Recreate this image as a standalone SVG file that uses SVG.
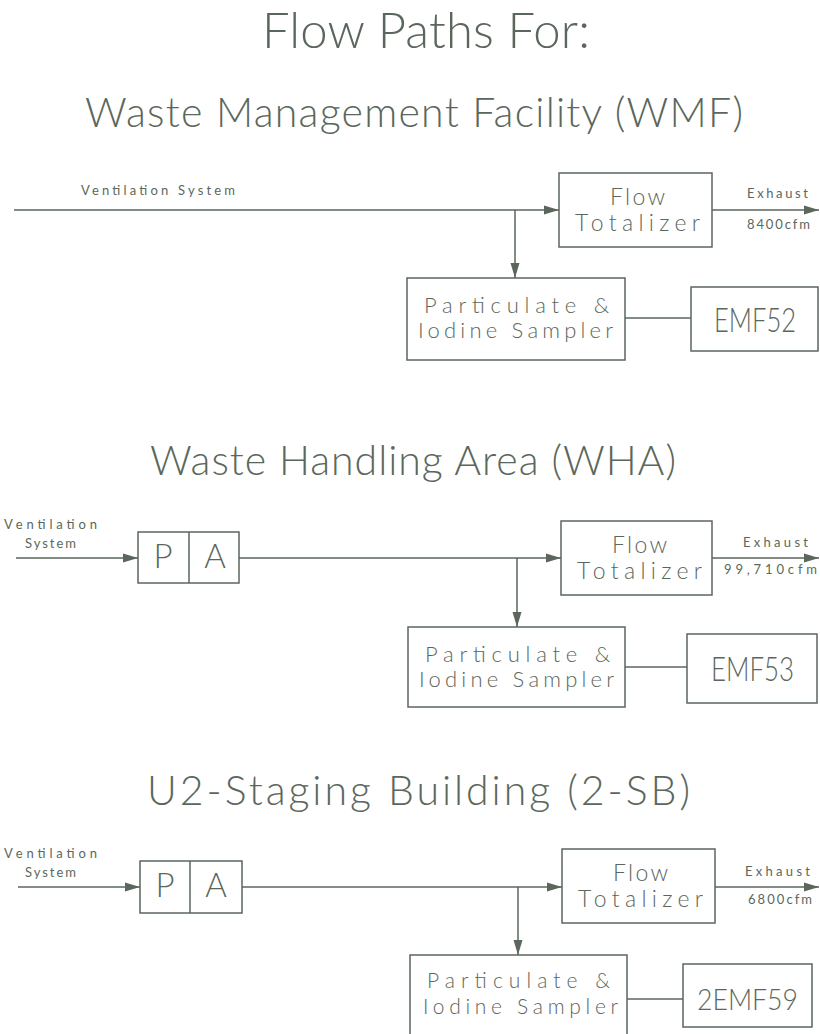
<svg xmlns="http://www.w3.org/2000/svg" width="820" height="1034" viewBox="0 0 820 1034">
<defs>
<style>
.t{font-family:"Lato","Roboto","Liberation Sans",sans-serif;fill:#5b675c;font-weight:300}
.s{font-weight:400}
.box{fill:none;stroke:#5b675c;stroke-width:1.5}
.ln{fill:none;stroke:#5b675c;stroke-width:1.5}
.arr{marker-end:url(#ah)}
</style>
<marker id="ah" markerUnits="userSpaceOnUse" markerWidth="16" markerHeight="10" refX="15" refY="5" orient="auto">
<path d="M0,0.5 L15,5 L0,9.5 Z" fill="#5b675c"/>
</marker>
</defs>
<rect width="820" height="1034" fill="#ffffff"/>

<g id="titles">
<text class="t" x="262" y="48" font-size="49" textLength="328" lengthAdjust="spacing">Flow Paths For:</text>
<text class="t" x="85" y="127" font-size="41" textLength="658" lengthAdjust="spacing">Waste Management Facility (WMF)</text>
<text class="t" x="150" y="475" font-size="41" textLength="526" lengthAdjust="spacing">Waste Handling Area (WHA)</text>
<text class="t" x="147" y="805" font-size="41" textLength="543" lengthAdjust="spacing">U2-Staging Building (2-SB)</text>
</g>

<g id="connectors">
<line class="ln arr" x1="14" y1="210" x2="559" y2="210"/>
<line class="ln arr" x1="515" y1="210" x2="515" y2="278"/>
<line class="ln arr" x1="712" y1="210" x2="819" y2="210"/>
<line class="ln" x1="625" y1="318" x2="691" y2="318"/>
<line class="ln arr" x1="16" y1="558" x2="138" y2="558"/>
<line class="ln arr" x1="239" y1="558" x2="561" y2="558"/>
<line class="ln arr" x1="517" y1="558" x2="517" y2="627"/>
<line class="ln arr" x1="712" y1="558" x2="819" y2="558"/>
<line class="ln" x1="625" y1="667" x2="687" y2="667"/>
<line class="ln arr" x1="18" y1="887" x2="140" y2="887"/>
<line class="ln arr" x1="242" y1="887" x2="562" y2="887"/>
<line class="ln arr" x1="518" y1="887" x2="518" y2="955"/>
<line class="ln arr" x1="715" y1="887" x2="819" y2="887"/>
<line class="ln" x1="627" y1="999" x2="683" y2="999"/>
</g>

<g id="labels">
<text class="t s" x="81" y="195" font-size="13" textLength="154" lengthAdjust="spacing">Ventilation System</text>
<text class="t s" x="747" y="198" font-size="13" textLength="61" lengthAdjust="spacing">Exhaust</text>
<text class="t s" x="747" y="229" font-size="13" textLength="63" lengthAdjust="spacing">8400cfm</text>

<text class="t s" x="4" y="529" font-size="13" textLength="93" lengthAdjust="spacing">Ventilation</text>
<text class="t s" x="25" y="548" font-size="13" textLength="51" lengthAdjust="spacing">System</text>
<text class="t s" x="743" y="547" font-size="13" textLength="65" lengthAdjust="spacing">Exhaust</text>
<text class="t s" x="724" y="574" font-size="13" textLength="93" lengthAdjust="spacing">99,710cfm</text>

<text class="t s" x="4" y="858" font-size="13" textLength="93" lengthAdjust="spacing">Ventilation</text>
<text class="t s" x="25" y="877" font-size="13" textLength="51" lengthAdjust="spacing">System</text>
<text class="t s" x="745" y="876" font-size="13" textLength="65" lengthAdjust="spacing">Exhaust</text>
<text class="t s" x="748" y="904" font-size="13" textLength="64" lengthAdjust="spacing">6800cfm</text>
</g>

<g id="flow1">
<rect class="box" x="559" y="173" width="153" height="74"/>
<text class="t" x="610" y="205" font-size="23" textLength="55" lengthAdjust="spacing">Flow</text>
<text class="t" x="575" y="231" font-size="23" textLength="125" lengthAdjust="spacing">Totalizer</text>
</g>
<g id="sampler1">
<rect class="box" x="407" y="278" width="218" height="82"/>
<text class="t" x="424" y="313" font-size="22" textLength="185" lengthAdjust="spacing">Particulate &amp;</text>
<text class="t" x="418" y="338" font-size="22" textLength="195" lengthAdjust="spacing">Iodine Sampler</text>
</g>
<g id="emf52">
<rect class="box" x="691" y="287" width="127" height="64"/>
<text class="t" x="714" y="332" font-size="33" textLength="82" lengthAdjust="spacingAndGlyphs">EMF52</text>
</g>

<g id="pa2">
<rect class="box" x="138" y="532" width="101" height="51"/>
<line class="ln" x1="189" y1="532" x2="189" y2="583"/>
<text class="t" x="163" y="568" font-size="33" text-anchor="middle">P</text>
<text class="t" x="215" y="568" font-size="33" text-anchor="middle">A</text>
</g>
<g id="flow2">
<rect class="box" x="561" y="521" width="151" height="74"/>
<text class="t" x="612" y="553" font-size="23" textLength="55" lengthAdjust="spacing">Flow</text>
<text class="t" x="577" y="579" font-size="23" textLength="125" lengthAdjust="spacing">Totalizer</text>
</g>
<g id="sampler2">
<rect class="box" x="408" y="627" width="217" height="80"/>
<text class="t" x="425" y="662" font-size="22" textLength="185" lengthAdjust="spacing">Particulate &amp;</text>
<text class="t" x="419" y="687" font-size="22" textLength="195" lengthAdjust="spacing">Iodine Sampler</text>
</g>
<g id="emf53">
<rect class="box" x="687" y="634" width="130" height="69"/>
<text class="t" x="711" y="681" font-size="33" textLength="83" lengthAdjust="spacingAndGlyphs">EMF53</text>
</g>

<g id="pa3">
<rect class="box" x="140" y="861" width="102" height="52"/>
<line class="ln" x1="190" y1="861" x2="190" y2="913"/>
<text class="t" x="165" y="897" font-size="33" text-anchor="middle">P</text>
<text class="t" x="216" y="897" font-size="33" text-anchor="middle">A</text>
</g>
<g id="flow3">
<rect class="box" x="562" y="849" width="153" height="74"/>
<text class="t" x="613" y="881" font-size="23" textLength="55" lengthAdjust="spacing">Flow</text>
<text class="t" x="578" y="907" font-size="23" textLength="125" lengthAdjust="spacing">Totalizer</text>
</g>
<g id="sampler3">
<rect class="box" x="410" y="955" width="217" height="90"/>
<text class="t" x="427" y="988" font-size="21" textLength="183" lengthAdjust="spacing">Particulate &amp;</text>
<text class="t" x="423" y="1014" font-size="21" textLength="195" lengthAdjust="spacing">Iodine Sampler</text>
</g>
<g id="emf59">
<rect class="box" x="683" y="964" width="129" height="63"/>
<text class="t" x="697" y="1010" font-size="30" textLength="101" lengthAdjust="spacingAndGlyphs">2EMF59</text>
</g>
</svg>
